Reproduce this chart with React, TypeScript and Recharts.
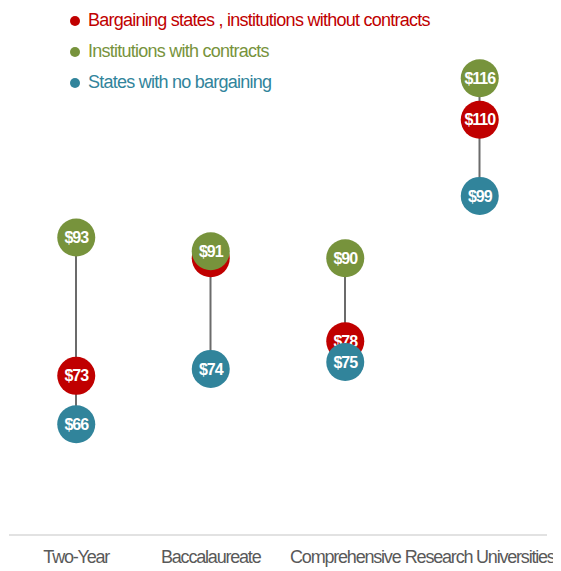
import { ComposedChart, Bar, Scatter, XAxis, YAxis } from 'recharts';

const categories = ['Two-Year', 'Baccalaureate', 'Comprehensive', 'Research Universities'];
const bargainingNoContract = [73, 90, 78, 110];
const withContracts = [93, 91, 90, 116];
const noBargaining = [66, 74, 75, 99];

const seriesInfo = [
  { key: 'bargaining', name: 'Bargaining states , institutions without contracts', color: '#C00000' },
  { key: 'contracts', name: 'Institutions with contracts', color: '#77933C' },
  { key: 'none', name: 'States with no bargaining', color: '#31849B' },
];

const data = categories.map((name, i) => {
  const vals = [bargainingNoContract[i], withContracts[i], noBargaining[i]];
  return {
    name,
    bargaining: bargainingNoContract[i],
    contracts: withContracts[i],
    none: noBargaining[i],
    range: [Math.min(...vals), Math.max(...vals)],
  };
});

const FONT = '"Liberation Sans", Arial, sans-serif';

// label of a dot that sits almost fully under a later-drawn dot is hidden, as in the source
const isCovered = (key: string, payload: any) => {
  const order = seriesInfo.map((s) => s.key);
  const later = order.slice(order.indexOf(key) + 1);
  return later.some((k) => Math.abs(payload[k] - payload[key]) < 2.5);
};

const makeDot = (key: string, color: string) => (props: any) => {
  const { cx, cy, payload } = props;
  if (cx == null || cy == null) return <g />;
  return (
    <g>
      <circle cx={cx} cy={cy} r={19} fill={color} />
      {!isCovered(key, payload) && (
        <text
          x={cx}
          y={cy}
          dy="0.35em"
          textAnchor="middle"
          fill="#fff"
          fontWeight="bold"
          fontSize={16}
          fontFamily={FONT}
          letterSpacing={-1}
        >
          ${payload[key]}
        </text>
      )}
    </g>
  );
};

const Tick = (props: any) => {
  const { x, y, payload } = props;
  return (
    <text
      x={x}
      y={y + 20}
      textAnchor="middle"
      fill="#595959"
      fontSize={18}
      fontFamily={FONT}
      letterSpacing={-1.2}
    >
      {payload.value}
    </text>
  );
};

export default function App() {
  return (
    <div style={{ position: 'relative', width: 553, height: 563 }}>
      <ComposedChart
        width={553}
        height={563}
        data={data}
        margin={{ top: 8, right: 14, bottom: 6, left: 1 }}
      >
        <XAxis
          dataKey="name"
          axisLine={{ stroke: '#d9d9d9', strokeWidth: 1.5 }}
          tickLine={false}
          height={30}
          interval={0}
          tick={<Tick />}
        />
        <YAxis hide domain={[50, 125]} type="number" />
        <Bar dataKey="range" barSize={2} fill="#6b6b6b" isAnimationActive={false} />
        {seriesInfo.map((s) => (
          <Scatter
            key={s.key}
            dataKey={s.key}
            name={s.name}
            fill={s.color}
            shape={makeDot(s.key, s.color)}
            isAnimationActive={false}
          />
        ))}
      </ComposedChart>
      <div
        style={{
          position: 'absolute',
          left: 62,
          top: -3,
          fontFamily: FONT,
          fontSize: 18,
          letterSpacing: -0.75,
        }}
      >
        {seriesInfo.map((s) => (
          <div key={s.key} style={{ display: 'flex', alignItems: 'center', height: 31, color: s.color }}>
            <span
              style={{
                width: 10,
                height: 10,
                borderRadius: 5,
                background: s.color,
                display: 'inline-block',
                marginRight: 8,
              }}
            />
            {s.name}
          </div>
        ))}
      </div>
    </div>
  );
}
